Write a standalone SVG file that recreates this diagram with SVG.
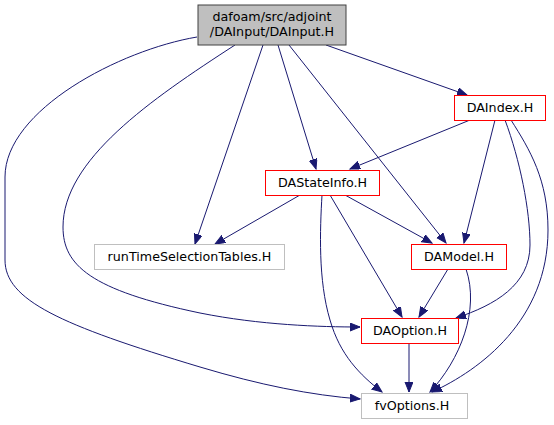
<svg xmlns="http://www.w3.org/2000/svg" width="554" height="425" viewBox="0 0 554 425">
<style>
.n rect{fill:#ffffff;stroke-width:1}
.red rect{stroke:#ff0000}
.grey rect{stroke:#bfbfbf}
.root rect{fill:#bfbfbf;stroke:#404040}
text{font-family:"DejaVu Sans","Liberation Sans",sans-serif;font-size:12.7px;fill:#000000;text-anchor:middle}
.e path{fill:none;stroke:#191970;stroke-width:1;marker-end:url(#ah)}
</style>
<defs>
<marker id="ah" markerUnits="userSpaceOnUse" markerWidth="12" markerHeight="9" refX="10" refY="4" orient="auto">
<path d="M0,0 L10,4 L0,8 z" fill="#191970" stroke="#191970" stroke-width="1"/>
</marker>
</defs>
<rect width="554" height="425" fill="#ffffff"/>
<g class="e" id="edges">
<path d="M197,37 C120,50 5,110 5,177 L5,260 C5,300 60,325 200,367 C260,385 310,395 360,399"/>
<path d="M235,45 C150,100 63,160 63,227 C63,265 90,290 200,313 C260,325 320,327 360,327"/>
<path d="M263,45 L195,244"/>
<path d="M278,45 L316,169"/>
<path d="M289,45 L446,243"/>
<path d="M326,45 L467,95"/>
<path d="M470,120 L350,169"/>
<path d="M495,120 L464,243"/>
<path d="M505,120 C520,160 530,210 530,245 C530,285 495,305 456,318"/>
<path d="M511,120 C530,150 548,180 548,230 C548,320 480,370 432,392"/>
<path d="M300,195 L215,244"/>
<path d="M345,195 L432,243"/>
<path d="M330,195 L402,317"/>
<path d="M322,195 C320,230 318,280 330,320 C340,355 360,375 382,392"/>
<path d="M448,269 L419,317"/>
<path d="M466,269 C480,310 460,360 430,392"/>
<path d="M409,344 L409,392"/>
</g>
<g id="root" class="n root"><rect x="198" y="5" width="148" height="40"/><text x="272" y="21">dafoam/src/adjoint</text><text x="272" y="36">/DAInput/DAInput.H</text></g>
<g id="DAIndex" class="n red"><rect x="454.5" y="95.5" width="91" height="25"/><text x="500" y="112">DAIndex.H</text></g>
<g id="DAStateInfo" class="n red"><rect x="265.5" y="170.5" width="114" height="25"/><text x="322.5" y="187">DAStateInfo.H</text></g>
<g id="runTimeSelectionTables" class="n grey"><rect x="94.5" y="244.5" width="190" height="25"/><text x="189.5" y="261">runTimeSelectionTables.H</text></g>
<g id="DAModel" class="n red"><rect x="411.5" y="244.5" width="95" height="25"/><text x="459" y="261">DAModel.H</text></g>
<g id="DAOption" class="n red"><rect x="361.5" y="318.5" width="97" height="25"/><text x="410" y="335">DAOption.H</text></g>
<g id="fvOptions" class="n grey"><rect x="361.5" y="393.5" width="106" height="25"/><text x="412" y="410">fvOptions.H</text></g>
</svg>
